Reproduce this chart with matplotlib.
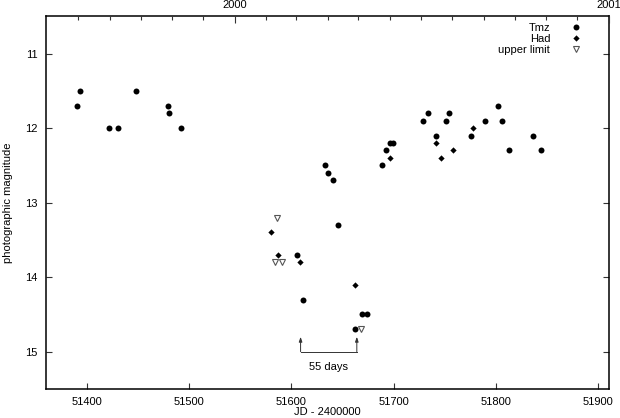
import matplotlib
matplotlib.use("Agg")
import matplotlib.pyplot as plt
from datetime import date

plt.rcParams['font.family'] = ['Liberation Sans', 'DejaVu Sans']
plt.rcParams['font.size'] = 8

# Tmz observations (JD - 2400000, photographic magnitude)
tmz_jd = [51390.5, 51393.5, 51421.5, 51430.0, 51448.5, 51479.0, 51480.5, 51492.0,
          51605.5, 51611.5, 51632.5, 51635.5, 51640.5, 51645.5, 51662.5, 51669.5, 51673.5,
          51688.5, 51692.5, 51696.0, 51699.0, 51728.5, 51733.5, 51741.0, 51751.0, 51754.0,
          51776.0, 51789.0, 51802.0, 51806.0, 51813.0, 51836.0, 51844.0]
tmz_mag = [11.7, 11.5, 12.0, 12.0, 11.5, 11.7, 11.8, 12.0,
           13.7, 14.3, 12.5, 12.6, 12.7, 13.3, 14.7, 14.5, 14.5,
           12.5, 12.3, 12.2, 12.2, 11.9, 11.8, 12.1, 11.9, 11.8,
           12.1, 11.9, 11.7, 11.9, 12.3, 12.1, 12.3]

# Had observations
had_jd = [51580.5, 51586.5, 51608.5, 51662.5, 51696.0, 51741.0, 51746.5, 51758.5, 51778.0]
had_mag = [13.4, 13.7, 13.8, 14.1, 12.4, 12.2, 12.4, 12.3, 12.0]

# upper limits
lim_jd = [51585.5, 51583.5, 51590.5, 51668.0]
lim_mag = [13.2, 13.8, 13.8, 14.7]

# 55 day gap marker
gap_start = 51609
gap_end = 51664
gap_low = 15.0
gap_high = 14.8

x_ticks = [51400, 51500, 51600, 51700, 51800, 51900]
y_ticks = [11, 12, 13, 14, 15]
year_labels = ['2000', '2001']

fig, ax = plt.subplots(figsize=(6.2, 4.18), dpi=100)
fig.subplots_adjust(left=0.0742, right=0.982, top=0.961, bottom=0.0694)

ax.plot(tmz_jd, tmz_mag, 'o', color='black', ms=4.3, mew=0, label='Tmz')
ax.plot(had_jd, had_mag, 'D', color='black', ms=3.2, mew=0, label='Had')
ax.plot(lim_jd, lim_mag, 'v', mfc='white', mec='#555555', ms=4.3, mew=0.8,
        label='upper limit')

# gap arrows and bracket
for xg in (gap_start, gap_end):
    ax.annotate('', xy=(xg, gap_high), xytext=(xg, gap_low),
                arrowprops=dict(arrowstyle='-|>,head_length=0.35,head_width=0.12',
                                color='#333333', lw=0.7, shrinkA=0, shrinkB=0))
ax.plot([gap_start, gap_end], [gap_low, gap_low], color='#333333', lw=0.7)
ax.text((gap_start + gap_end) / 2, 15.2, '%d days' % (gap_end - gap_start),
        ha='center', va='center', fontsize=8)

ax.set_xlim(51360, 51910.5)
ax.set_ylim(15.5, 10.5)
ax.set_xticks(x_ticks)
ax.set_yticks(y_ticks)
ax.tick_params(direction='in', top=False, right=True, width=0.8, color='#333333')
ax.tick_params(axis='x', length=4, pad=5.5)
ax.tick_params(axis='y', length=4, pad=6)

ax.set_xlabel('JD - 2400000')
ax.xaxis.set_label_coords(0.5, -0.048)
ax.set_ylabel('photographic magnitude')
ax.yaxis.set_label_coords(-0.059, 0.5)

for s in ax.spines.values():
    s.set_linewidth(1.1)
    s.set_color('black')

# top axis: years with monthly ticks
def to_jd(d):
    return (d - date(2000, 1, 1)).days + 51544.5

months = [date(1999, m, 1) for m in range(8, 13)] + [date(2000, m, 1) for m in range(2, 13)]
ax2 = ax.twiny()
ax2.set_xlim(ax.get_xlim())
ax2.set_xticks([to_jd(date(2000, 1, 1)), to_jd(date(2001, 1, 1))])
ax2.set_xticklabels(year_labels)
ax2.set_xticks([to_jd(d) for d in months], minor=True)
ax2.tick_params(axis='x', which='major', direction='in', length=5, pad=4.5, width=0.8, color='#333333')
ax2.tick_params(axis='x', which='minor', direction='in', length=3, width=0.8, color='#333333')
for s in ax2.spines.values():
    s.set_visible(False)

leg = ax.legend(loc='upper right', bbox_to_anchor=(0.961, 0.982), frameon=False,
                markerfirst=False, borderaxespad=0, borderpad=0, labelspacing=0.1,
                handlelength=2.0, handletextpad=1.3, fontsize=8)

fig.savefig('out.png', dpi=100)
